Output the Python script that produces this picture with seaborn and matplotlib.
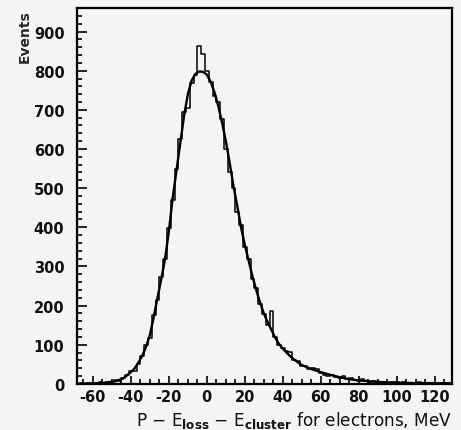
import numpy as np
import pandas as pd
import matplotlib
matplotlib.use("Agg")
import matplotlib.pyplot as plt
import seaborn as sns
from matplotlib.ticker import MultipleLocator

# ---- data ----
bin_edges = list(range(-67, 131, 2))          # 2 MeV bins
bin_centers = [e + 1 for e in bin_edges[:-1]]
counts = [
    2, 0, 3, 1, 2, 4, 2, 5, 4, 9,            # -66 .. -48
    8, 15, 22, 32, 34, 52, 70, 100, 118, 175,  # -46 .. -28
    215, 272, 318, 398, 470, 548, 625, 695, 705, 768,  # -26 .. -8
    790, 863, 842, 800, 770, 735, 720, 676, 600, 540,  # -6 .. 12
    500, 440, 405, 350, 320, 268, 245, 205, 178, 150,  # 14 .. 32
    185, 120, 100, 92, 85, 82, 60, 58, 45, 46,         # 34 .. 52
    38, 40, 38, 28, 22, 20, 22, 18, 15, 20,            # 54 .. 72
    12, 14, 10, 8, 12, 7, 6, 8, 5, 6,                  # 74 .. 92
    4, 3, 6, 4, 3, 5, 2, 3, 2, 4,                      # 94 .. 112
    1, 3, 2, 1, 2, 1, 2, 1,                            # 114 .. 128
]

fit_x = [-68, -64, -60, -56, -52, -48, -44, -40, -38, -36, -34, -32, -30,
         -28, -26, -24, -22, -20, -18, -16, -14, -12, -10, -8, -6, -4, -2,
         0, 2, 4, 6, 8, 10, 12, 14, 16, 18, 20, 22, 24, 26, 28, 30, 32, 34,
         36, 38, 40, 42, 44, 46, 48, 50, 55, 60, 65, 70, 75, 80, 85, 90,
         100, 110, 120, 129]
fit_y = [0, 1, 1, 2, 4, 7, 14, 30, 40, 55, 72, 95, 125,
         170, 220, 268, 320, 390, 475, 545, 615, 685, 740, 775, 792, 798, 797,
         790, 772, 745, 710, 668, 620, 565, 505, 455, 400, 355, 315, 275, 240,
         208, 180, 158, 138, 118, 102, 90, 80, 70, 62, 55, 48, 38, 30, 23, 17,
         12, 9, 7, 5, 3, 2, 2, 1]

y_ticks = [0, 100, 200, 300, 400, 500, 600, 700, 800, 900]
x_ticks = [-60, -40, -20, 0, 20, 40, 60, 80, 100, 120]

hist_df = pd.DataFrame({"x": bin_centers, "n": counts})
fit_df = pd.DataFrame({"x": fit_x, "y": fit_y})

# ---- style ----
sns.set_style("ticks")
plt.rcParams["font.family"] = ["DejaVu Sans"]
plt.rcParams["mathtext.fontset"] = "dejavusans"
plt.rcParams["axes.unicode_minus"] = False

bg = "#f4f4f4"
fig = plt.figure(figsize=(4.61, 4.31), dpi=100, facecolor=bg)
ax = fig.add_axes([0.167, 0.107, 0.813, 0.872])
ax.set_facecolor(bg)

sns.histplot(data=hist_df, x="x", weights="n", bins=bin_edges,
             element="step", fill=False, color="black", linewidth=1.1, ax=ax)
sns.lineplot(data=fit_df, x="x", y="y", color="black", linewidth=1.7, ax=ax)

ax.set_xlim(-68.4, 129)
ax.set_ylim(0, 960)
ax.set_xticks(x_ticks)
ax.set_yticks(y_ticks)
ax.xaxis.set_minor_locator(MultipleLocator(5))
ax.yaxis.set_minor_locator(MultipleLocator(20))
ax.tick_params(which="both", direction="in", top=False, right=False,
               width=1.2, color="black", labelcolor="#111111")
ax.tick_params(axis="y", which="major", length=7, pad=9)
ax.tick_params(axis="y", which="minor", length=3.5)
ax.tick_params(axis="x", which="major", length=6, pad=4)
ax.tick_params(axis="x", which="minor", length=3.5)
for lab in ax.get_xticklabels() + ax.get_yticklabels():
    lab.set_fontweight("bold")
    lab.set_fontsize(10.5)
for s in ax.spines.values():
    s.set_linewidth(1.6)
    s.set_color("black")

ax.set_ylabel("Events", fontsize=10, fontweight="bold", loc="top")
ax.yaxis.set_label_coords(-0.12, 0.997)
ax.set_xlabel(r"P $-$ E$_{\mathbf{loss}}$ $-$ E$_{\mathbf{cluster}}$ for electrons, MeV",
              fontsize=12.2, fontweight="normal", color="#111111",
              loc="right", labelpad=3)

fig.savefig("out.png", dpi=100, facecolor=bg)
